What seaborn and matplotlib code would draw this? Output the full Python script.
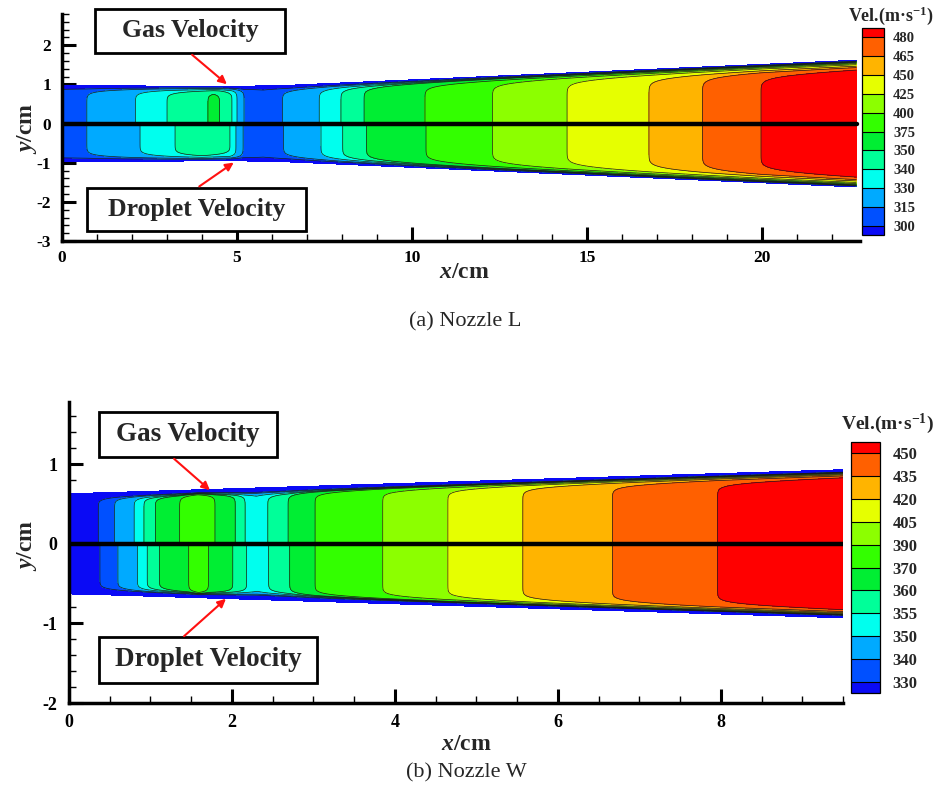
import numpy as np
import matplotlib
matplotlib.use('Agg')
import matplotlib.pyplot as plt
import seaborn as sns
from matplotlib.patches import Rectangle
from matplotlib.ticker import MultipleLocator

# ---------------- data ----------------
L_levels = [300, 315, 330, 340, 350, 375, 400, 425, 450, 465, 480]
W_levels = [330, 340, 350, 355, 360, 370, 390, 405, 420, 435, 450]
band_colors = ['#0A0AF5', '#0050FF', '#00AAFF', '#00FFEE', '#00FF99', '#00EE33',
               '#33FF00', '#8CFF00', '#E6FF00', '#FFB400', '#FF6000', '#FF0000']

# Nozzle L : wall radius and centreline velocities (upper half gas, lower half droplet)
L_wall_x = [0.0, 5.0, 6.5, 22.7]
L_wall_r = [0.97, 0.95, 0.98, 1.62]
L_gas_x = [0.0, 0.71, 2.10, 3.00, 4.17, 4.33, 4.50, 4.86, 5.00, 5.20, 5.75, 6.30,
           7.35, 7.97, 8.63, 10.37, 12.30, 14.43, 16.77, 18.30, 19.97, 22.7]
L_gas_v = [311, 315, 330, 340, 350, 351.5, 350, 340, 330, 315, 308, 315,
           330, 340, 350, 375, 400, 425, 450, 465, 480, 492]
L_drop_x = [0.0, 0.71, 2.23, 3.23, 4.00, 4.80, 4.97, 5.17, 5.75, 6.33,
            7.40, 8.02, 8.70, 10.40, 12.30, 14.43, 16.77, 18.30, 19.97, 22.7]
L_drop_v = [311, 315, 330, 340, 347, 340, 330, 315, 308, 315,
            330, 340, 350, 375, 400, 425, 450, 465, 480, 492]

# Nozzle W
W_wall_x = [0.0, 0.4, 9.5]
W_wall_r = [0.63, 0.64, 0.93]
W_gas_x = [0.0, 0.36, 0.56, 0.80, 0.92, 1.06, 1.36, 1.58, 1.79, 2.04, 2.16, 2.30,
           2.44, 2.69, 3.02, 3.85, 4.65, 5.57, 6.67, 7.96, 9.5]
W_gas_v = [322, 330, 340, 350, 355, 360, 370, 385, 370, 360, 355, 352,
           355, 360, 370, 390, 405, 420, 435, 450, 461]
W_drop_x = [0.0, 0.38, 0.60, 0.84, 0.96, 1.11, 1.47, 1.59, 1.71, 2.01, 2.18, 2.31,
            2.45, 2.71, 3.02, 3.85, 4.65, 5.57, 6.67, 7.96, 9.5]
W_drop_v = [322, 330, 340, 350, 355, 360, 370, 383, 370, 360, 355, 352,
            355, 360, 370, 390, 405, 420, 435, 450, 461]

# ---------------- style ----------------
sns.set_theme(style='ticks')
plt.rcParams['font.family'] = ['Liberation Serif', 'DejaVu Serif']
plt.rcParams['font.weight'] = 'bold'
plt.rcParams['axes.unicode_minus'] = False
plt.rcParams['mathtext.fontset'] = 'custom'
plt.rcParams['mathtext.rm'] = 'Liberation Serif:bold'
plt.rcParams['mathtext.it'] = 'Liberation Serif:italic:bold'
plt.rcParams['mathtext.bf'] = 'Liberation Serif:bold'

W, H = 934, 802
fig = plt.figure(figsize=(W / 100, H / 100), dpi=100)


def fx(px):
    return px / W


def fy(py):
    return 1 - py / H


def rect(l, t, r, b):
    return [fx(l), fy(b), fx(r) - fx(l), fy(t) - fy(b)]


def panel(ax, wall_x, wall_r, gas_x, gas_v, drop_x, drop_v, levels, v_wall, n_exp):
    xg = np.linspace(wall_x[0], wall_x[-1], 900)
    eta = np.linspace(0, 1, 300)
    E, XX = np.meshgrid(eta, xg, indexing='ij')
    R = np.interp(XX, wall_x, wall_r)
    prof = 1 - E ** n_exp
    cf = None
    for cx, cv, sgn in [(gas_x, gas_v, 1), (drop_x, drop_v, -1)]:
        VC = np.interp(XX, cx, cv)
        V = v_wall + (VC - v_wall) * prof
        Y = sgn * E * R
        cf = ax.contourf(XX, Y, V, levels=levels, colors=band_colors, extend='both')
        ax.contour(XX, Y, V, levels=levels, colors='#1a1a1a', linewidths=0.5)
    sns.lineplot(x=[xg[0], xg[-1]], y=[0, 0], ax=ax, color='black', lw=3.2)
    return cf


def style_axes(ax, fs, xmaj, xmin, ypad, xpad):
    for s in ['top', 'right']:
        ax.spines[s].set_visible(False)
    for s in ['left', 'bottom']:
        ax.spines[s].set_linewidth(2.5)
        ax.spines[s].set_color('black')
    ax.xaxis.set_major_locator(MultipleLocator(xmaj))
    ax.xaxis.set_minor_locator(MultipleLocator(xmin))
    ax.yaxis.set_major_locator(MultipleLocator(1))
    ax.yaxis.set_minor_locator(MultipleLocator(0.2))
    ax.tick_params(which='major', direction='in', length=10, width=2.2, labelsize=fs, colors='black')
    ax.tick_params(which='minor', direction='in', length=5, width=1.0, colors='black')
    ax.tick_params(axis='y', which='major', pad=ypad)
    ax.tick_params(axis='x', which='major', pad=xpad)
    ax.set_facecolor('white')
    ax.grid(False)
    for lab in ax.get_xticklabels() + ax.get_yticklabels():
        lab.set_fontweight('bold')


def colorbar(cf, box, levels, fs, pad):
    cax = fig.add_axes(rect(*box))
    cb = fig.colorbar(cf, cax=cax, ticks=levels, drawedges=True, extendrect=True)
    cb.ax.tick_params(length=0, labelsize=fs, pad=pad)
    cb.outline.set_linewidth(0.9)
    cb.outline.set_edgecolor('black')
    cb.dividers.set_linewidth(0.8)
    cb.dividers.set_color('black')
    for lab in cb.ax.get_yticklabels():
        lab.set_fontweight('bold')
    return cb


def label_box(l, t, r, b, text, fs):
    fig.add_artist(Rectangle((fx(l), fy(b)), fx(r) - fx(l), fy(t) - fy(b),
                             transform=fig.transFigure, facecolor='white',
                             edgecolor='black', lw=2.0, zorder=10))
    fig.text(fx((l + r) / 2), fy((t + b) / 2), text, ha='center', va='center',
             fontsize=fs, fontweight='bold', zorder=11)


def arrow(x0, y0, x1, y1):
    fig.add_artist(matplotlib.patches.FancyArrowPatch(
        (fx(x0), fy(y0)), (fx(x1), fy(y1)), transform=fig.transFigure,
        arrowstyle='-|>', mutation_scale=12, color='#FF1010', lw=1.5, zorder=12))


# ---------------- panel (a) ----------------
ax1 = fig.add_axes(rect(62, 14, 860, 241))
cf1 = panel(ax1, L_wall_x, L_wall_r, L_gas_x, L_gas_v, L_drop_x, L_drop_v, L_levels, 240, 18)
ax1.set_xlim(0, 22.8)
ax1.set_ylim(-3, 2.8)
style_axes(ax1, 12.5, 5, 1, 8, 6.5)
colorbar(cf1, (862, 28, 884, 235), L_levels, 10.5, 6.5)
fig.text(fx(891), fy(16), r'Vel.(m·s$^{-1}$)', ha='center', va='center', fontsize=13)
fig.text(fx(27), fy(128), r'$\mathit{y}$/cm', rotation=90, ha='center', va='center', fontsize=17)
fig.text(fx(464), fy(272), r'$\mathit{x}$/cm', ha='center', va='center', fontsize=17)
fig.text(fx(465), fy(322), '(a) Nozzle L', ha='center', va='center', fontsize=16, fontweight='normal')
label_box(95, 9, 285, 53, 'Gas Velocity', 18.5)
label_box(87, 188, 306, 231, 'Droplet Velocity', 18.5)
arrow(190, 53, 229, 86)
arrow(197, 188, 236, 161)

# ---------------- panel (b) ----------------
ax2 = fig.add_axes(rect(69, 402, 843, 703))
cf2 = panel(ax2, W_wall_x, W_wall_r, W_gas_x, W_gas_v, W_drop_x, W_drop_v, W_levels, 100, 30)
ax2.set_xlim(0, 9.5)
ax2.set_ylim(-2, 1.78)
style_axes(ax2, 13, 2, 0.5, 8.5, 8)
colorbar(cf2, (851, 442, 880, 693), W_levels, 12, 9)
fig.text(fx(887), fy(424), r'Vel.(m·s$^{-1}$)', ha='center', va='center', fontsize=14)
fig.text(fx(27), fy(545), r'$\mathit{y}$/cm', rotation=90, ha='center', va='center', fontsize=17)
fig.text(fx(466), fy(745), r'$\mathit{x}$/cm', ha='center', va='center', fontsize=17)
fig.text(fx(466), fy(773), '(b) Nozzle W', ha='center', va='center', fontsize=16, fontweight='normal')
label_box(99, 412, 277, 457, 'Gas Velocity', 19.5)
label_box(99, 637, 317, 683, 'Droplet Velocity', 19.5)
arrow(172, 457, 212, 492)
arrow(182, 638, 228, 597)

fig.savefig('out.png', dpi=100, facecolor='white')
